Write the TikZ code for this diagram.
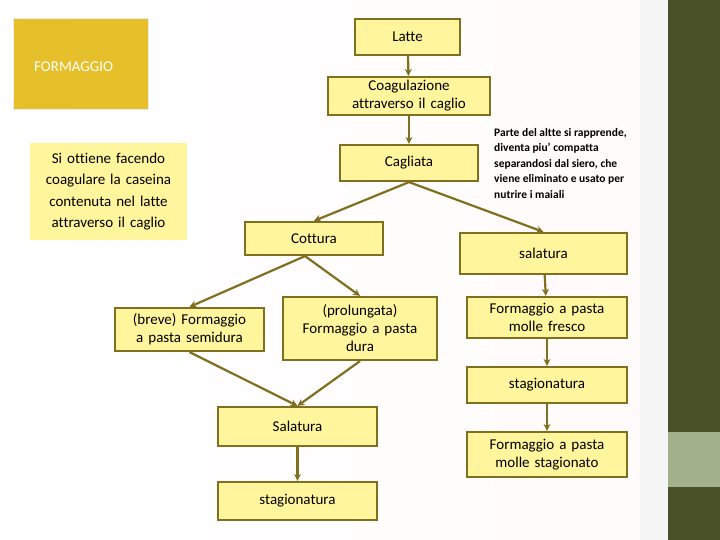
\documentclass[tikz,border=0pt]{standalone}
\usepackage{fontspec}
\setmainfont[Ligatures=CommonOff]{Carlito}
\usetikzlibrary{arrows.meta}
\definecolor{boxfill}{HTML}{FFF59D}
\definecolor{olive}{HTML}{7F6F1F}
\definecolor{bar}{HTML}{4A5128}
\definecolor{barlight}{HTML}{A3B08C}
\definecolor{gold}{HTML}{E6C02B}
\tikzset{
  bx/.style={draw=olive, line width=2.2pt, fill=boxfill, align=center, font=\fontsize{15}{18}\selectfont, inner sep=0pt},
  arr/.style={draw=olive, line width=2.2pt, -{Stealth[length=7pt,width=7pt]}}
}
\newcommand{\boxat}[6]{\node[bx, minimum width=#3-#2, minimum height=#5-#4, text width=#3-#2] (#1) at ({(#2+#3)/2},{(#4+#5)/2}) {#6};}
\begin{document}
\begin{tikzpicture}[x=1pt,y=-1pt]
\shade[left color=white, right color=pink!8] (0,0) rectangle (720,540);
\useasboundingbox (0,0) rectangle (720,540);
\fill[white!92!gray] (640,0) rectangle (668,540);
\fill[bar] (668,0) rectangle (720,540);
\fill[barlight] (668,432) rectangle (720,487);
\node[fill=gold, draw=gray!15, line width=1pt, minimum width=135, minimum height=91, inner sep=0pt] (fbox) at (80.5,64.5) {};
\node[text=white, font=\fontsize{15}{18}\selectfont, anchor=west, inner sep=0pt] (ftxt) at (34,67) {FORMAGGIO};
\node[fill=boxfill, minimum width=157, minimum height=97, text width=157, align=center, inner sep=0pt, font=\fontsize{15}{21.5}\selectfont] (si) at (108.5,191.5) {Si ottiene facendo coagulare la caseina contenuta nel latte attraverso il caglio};
\boxat{latte}{355}{460}{19}{55}{Latte}
\boxat{coag}{328}{490}{77}{115}{Coagulazione\\attraverso il caglio}
\boxat{cagl}{340}{478}{145}{181}{Cagliata}
\boxat{cott}{245}{383}{222}{255}{Cottura}
\boxat{salr}{460}{627}{233}{274}{salatura}
\boxat{breve}{115}{264}{308}{351}{(breve) Formaggio\\a pasta semidura}
\boxat{prol}{283}{437}{297}{360}{(prolungata)\\Formaggio a pasta\\dura}
\boxat{sall}{218}{377}{407}{446}{Salatura}
\boxat{stagl}{218}{377}{482}{520}{stagionatura}
\boxat{fresco}{467}{627}{297}{338}{Formaggio a pasta\\molle fresco}
\boxat{stagr}{467}{627}{367}{403}{stagionatura}
\boxat{stagn}{467}{627}{432}{477}{Formaggio a pasta\\molle stagionato}
\node[anchor=north west, align=left, font=\bfseries\fontsize{11.5}{15.5}\selectfont, inner sep=0pt] (note) at (494,128) {Parte del altte si rapprende,\\diventa piu' compatta\\separandosi dal siero, che\\viene eliminato e usato per\\nutrire i maiali};
\draw[arr] (latte) -- (coag);
\draw[arr] (coag) -- (cagl);
\draw[arr] (cagl.south) -- (cott.north);
\draw[arr] (cagl.south) -- (salr.north);
\draw[arr] ([xshift=-9pt]cott.south) -- (breve.north);
\draw[arr] ([xshift=-9pt]cott.south) -- (prol.north);
\draw[arr] (breve.south) -- (sall.north);
\draw[arr] (prol.south) -- (sall.north);
\draw[arr] (sall) -- (stagl);
\draw[arr] (salr) -- (fresco);
\draw[arr] (fresco) -- (stagr);
\draw[arr] (stagr) -- (stagn);
\end{tikzpicture}
\end{document}
